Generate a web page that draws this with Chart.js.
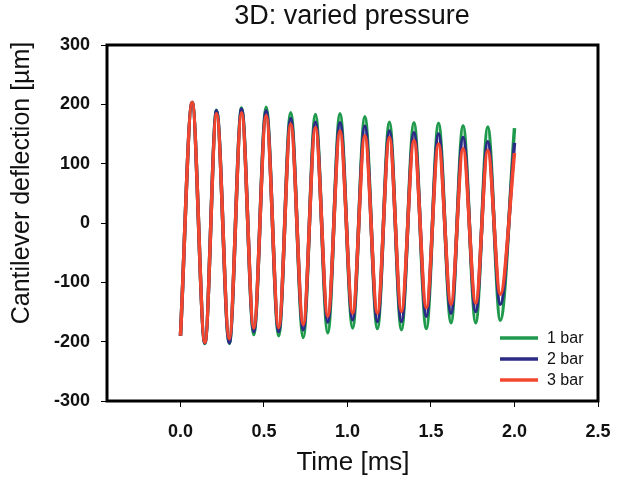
<!DOCTYPE html>
<html>
<head>
<meta charset="utf-8">
<script src="https://cdn.jsdelivr.net/npm/chart.js@4/dist/chart.umd.min.js"></script>
<style>
    html, body { margin: 0; padding: 0; background: #fff; }
    #chart { display: block; }
</style>
</head>
<body>
<canvas id="chart" width="626" height="482"></canvas>
<script>
// Data (peaks / troughs of each trace)
const timeMs = [0.0, 0.070, 0.146, 0.216, 0.292, 0.366, 0.439, 0.513, 0.588, 0.660, 0.735, 0.808, 0.882, 0.955,
    1.031, 1.104, 1.179, 1.251, 1.323, 1.398, 1.472, 1.545, 1.620, 1.692, 1.768, 1.840, 1.915, 2.0];

const bar1 = [-190, 203, -203, 190, -203, 194, -188, 195, -190, 186, -193, 183, -185, 184,
    -177, 179, -178, 170, -180, 169, -178, 168, -168, 164, -168, 162, -164, 160];
const bar2 = [-190, 203, -202, 189, -202, 192, -183, 189, -183, 176, -180, 170, -167, 169,
    -163, 163, -166, 155, -166, 152, -157, 150, -152, 144, -149, 137, -137, 135];
const bar3 = [-190, 203, -201, 184, -195, 186, -177, 181, -176, 167, -171, 161, -157, 155,
    -152, 147, -152, 144, -149, 139, -143, 133, -137, 125, -135, 122, -120, 118];

const seriesLabels = ['1 bar', '2 bar', '3 bar'];
const seriesColors = ['#1f9a4c', '#2b2b86', '#f2462f'];

const xTicks = [0.0, 0.5, 1.0, 1.5, 2.0, 2.5];

const toPoints = values => values.map((v, i) => ({ x: timeMs[i], y: v }));

// Frame, titles and the in-plot legend
const decorations = {
    id: 'decorations',
    afterDraw(chart) {
        const { ctx, chartArea } = chart;
        ctx.save();
        ctx.strokeStyle = '#000';
        ctx.lineWidth = 3;
        ctx.strokeRect(chartArea.left, chartArea.top, chartArea.right - chartArea.left, chartArea.bottom - chartArea.top);

        ctx.fillStyle = '#111';
        ctx.textAlign = 'center';
        ctx.textBaseline = 'middle';
        ctx.font = '27px "Liberation Sans", Arial, sans-serif';
        ctx.fillText('3D: varied pressure', 352, 17);

        ctx.font = '26px "Liberation Sans", Arial, sans-serif';
        ctx.fillText('Time [ms]', 353, 463);

        ctx.font = '25px "Liberation Sans", Arial, sans-serif';
        ctx.save();
        ctx.translate(22, 183);
        ctx.rotate(-Math.PI / 2);
        ctx.fillText('Cantilever deflection [µm]', 0, 0);
        ctx.restore();

        // legend
        ctx.font = '16px "Liberation Sans", Arial, sans-serif';
        ctx.textAlign = 'left';
        chart.data.datasets.forEach((ds, i) => {
            const y = 338 + i * 21;
            ctx.strokeStyle = ds.borderColor;
            ctx.lineWidth = 3.5;
            ctx.beginPath();
            ctx.moveTo(500, y);
            ctx.lineTo(538, y);
            ctx.stroke();
            ctx.fillStyle = '#111';
            ctx.fillText(ds.label, 547, y + 1);
        });
        ctx.restore();
    }
};

const ctx = document.getElementById('chart').getContext('2d');
new Chart(ctx, {
    type: 'line',
    data: {
        datasets: [bar1, bar2, bar3].map((values, i) => ({
            label: seriesLabels[i],
            data: toPoints(values),
            borderColor: seriesColors[i],
            borderWidth: 3.5,
            pointRadius: 0,
            cubicInterpolationMode: 'monotone',
            order: 3 - i
        }))
    },
    options: {
        responsive: false,
        animation: false,
        devicePixelRatio: 1,
        layout: {
            padding: { top: 45, right: 28, left: 0, bottom: 0 }
        },
        plugins: {
            legend: { display: false },
            tooltip: { enabled: false }
        },
        scales: {
            x: {
                type: 'linear',
                min: -0.44,
                max: 2.5,
                afterBuildTicks: scale => {
                    scale.ticks = xTicks.map(v => ({ value: v }));
                },
                afterFit: scale => { scale.height = 81; },
                border: { display: false },
                grid: {
                    drawOnChartArea: false,
                    drawTicks: true,
                    tickLength: 6,
                    color: '#000',
                    lineWidth: 1
                },
                ticks: {
                    color: '#111',
                    padding: 14,
                    maxRotation: 0,
                    font: { family: '"Liberation Sans", Arial, sans-serif', size: 18, weight: 'bold' },
                    callback: value => value.toFixed(1)
                }
            },
            y: {
                min: -300,
                max: 300,
                afterFit: scale => { scale.width = 107; },
                border: { display: false },
                grid: {
                    drawOnChartArea: false,
                    drawTicks: true,
                    tickLength: 6,
                    color: '#000',
                    lineWidth: 1
                },
                ticks: {
                    stepSize: 100,
                    color: '#111',
                    padding: 11,
                    font: { family: '"Liberation Sans", Arial, sans-serif', size: 18, weight: 'bold' }
                }
            }
        }
    },
    plugins: [decorations]
});
</script>
</body>
</html>
